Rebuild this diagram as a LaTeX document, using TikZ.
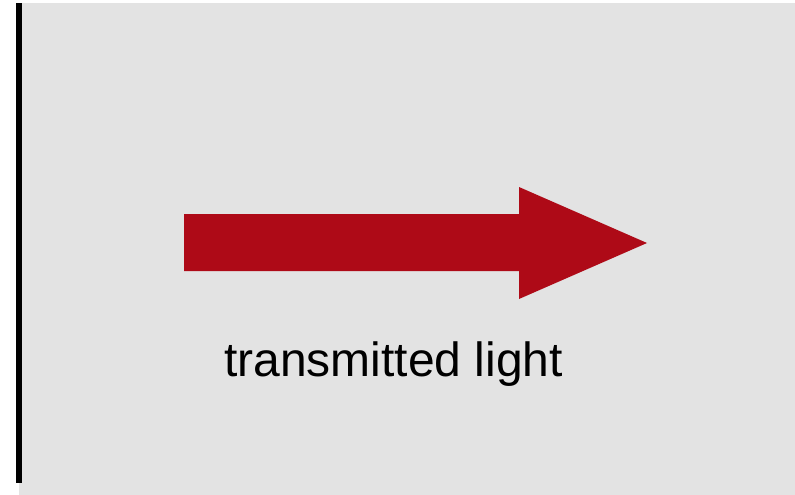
\documentclass[tikz,border=0pt]{standalone}
\usepackage{fontspec}
\setmainfont{Liberation Sans}
\definecolor{panelgrey}{HTML}{E3E3E3}
\definecolor{arrowred}{HTML}{AE0A17}
\begin{document}
\begin{tikzpicture}[x=1pt,y=-1pt,
  panel/.style={fill=panelgrey,draw=none},
  edge/.style={fill=black,draw=none},
  bigarrow/.style={fill=arrowred,draw=none},
  caption/.style={font=\fontsize{48}{58}\selectfont,inner sep=0pt,anchor=base west}]
  \useasboundingbox (0,0) rectangle (795,495);
  % grey panel
  \path[panel] (19,3) rectangle (795,495);
  % black edge on the left
  \path[edge] (16,3) rectangle (22,483);
  % block arrow
  \path[bigarrow] (184,214) -- (519,214) -- (519,187) -- (647,243)
    -- (519,299) -- (519,271) -- (184,271) -- cycle;
  % label
  \node[caption] (lbl) at (224,376) {transmitted light};
\end{tikzpicture}
\end{document}
